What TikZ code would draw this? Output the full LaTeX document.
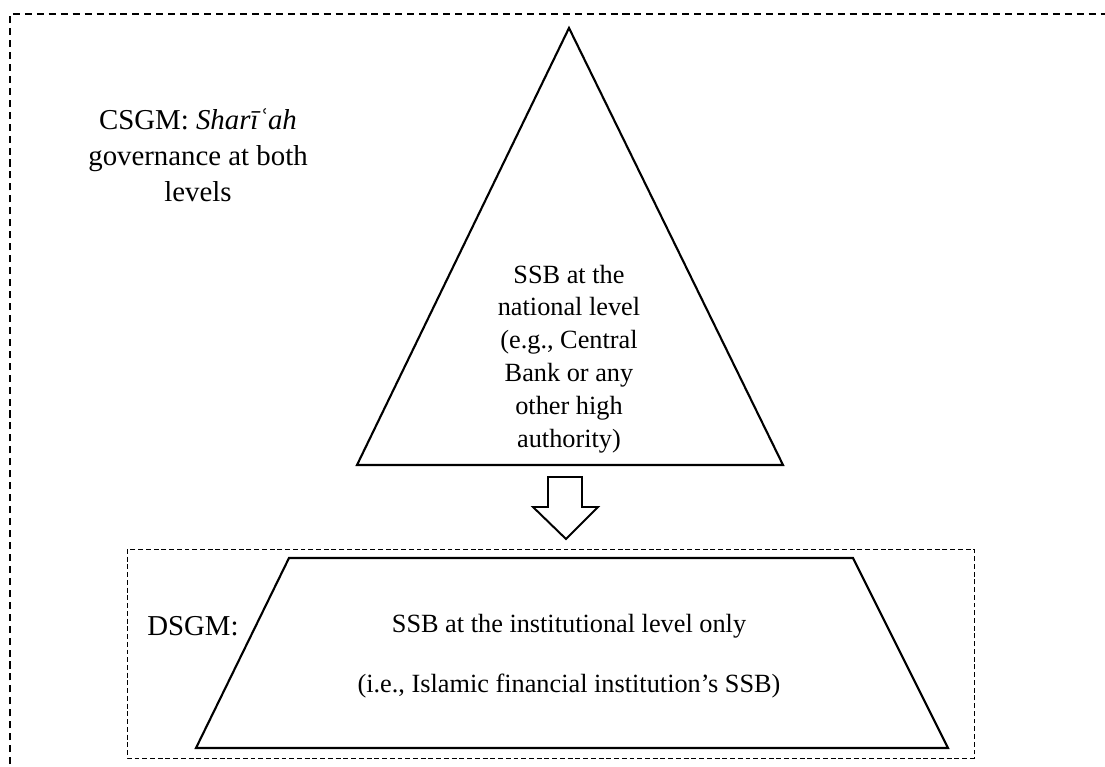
\documentclass[tikz,border=0pt]{standalone}
\usepackage{fontspec}
\setmainfont{Liberation Serif}

\begin{document}
\begin{tikzpicture}[x=0.025cm,y=-0.025cm,
        boxtext/.style={align=center,inner sep=0pt,font=\fontsize{18.7}{23.4}\selectfont},
        modeltext/.style={align=center,inner sep=0pt,font=\fontsize{20.5}{25.5}\selectfont},
        outerframe/.style={dash pattern=on 5pt off 3.5pt,line width=0.9pt},
        innerframe/.style={dash pattern=on 3.5pt off 2pt,line width=0.7pt},
        level/.style={line width=1.5pt,line join=miter}]
        \useasboundingbox (0,0) rectangle (1105,767);
        \clip (0,0) rectangle (1105,767);

        % national level (triangle)
        \coordinate (A) at (569,28);
        \coordinate (B) at (357,465);
        \coordinate (C) at (783,465);
        % institutional level (trapezium)
        \coordinate (D) at (289,558);
        \coordinate (E) at (853,558);
        \coordinate (F) at (948,748);
        \coordinate (G) at (196,748);

        \draw[outerframe]  (10,800) -- (10,14) -- (1130,14);
        \draw[innerframe]  (127,549) rectangle (974,758);

        \draw[level]  (A) -- (C) -- (B) -- cycle;
        \draw[level]  (D) -- (E) -- (F) -- (G) -- cycle;

        % block arrow
        \draw[line width=1.4pt,line join=miter]  (548,477) -- (582,477) -- (582,507) -- (598,507)
            -- (566,539) -- (533,507) -- (548,507) -- cycle;

        \node[modeltext] (csgm) at (198,155) {CSGM: \textit{Sharīʿah}\\governance at both\\levels};
        \node[boxtext] (national) at (569,359) {SSB at the\\national level\\(e.g., Central\\Bank or any\\other high\\authority)};
        \node[modeltext,anchor=base west] (dsgm) at (147,635) {DSGM:};
        \node[boxtext,anchor=base] (inst) at (569,632) {SSB at the institutional level only};
        \node[boxtext,anchor=base] (instnote) at (569,692) {(i.e., Islamic financial institution’s SSB)};
    \end{tikzpicture}
\end{document}
